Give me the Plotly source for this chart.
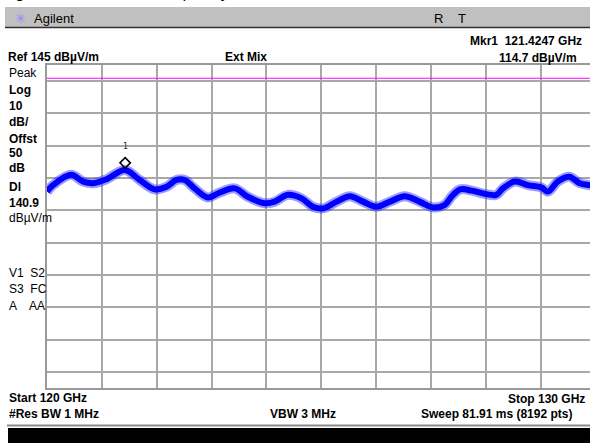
import plotly.graph_objects as go

# ---- data ----
freq_ghz = [120.00, 120.11, 120.44, 120.66, 120.84, 121.08, 121.42, 121.69, 121.96, 122.18,
            122.36, 122.51, 122.69, 122.93, 123.12, 123.42, 123.66, 123.97, 124.15, 124.39,
            124.64, 124.85, 125.03, 125.28, 125.52, 125.76, 126.00, 126.25, 126.52, 126.79,
            127.04, 127.25, 127.37, 127.53, 127.74, 127.98, 128.19, 128.31, 128.53, 128.77,
            129.01, 129.13, 129.31, 129.52, 129.71, 129.89, 130.00]
level_dbuv = [105.8, 107.8, 111.0, 108.9, 108.4, 109.6, 112.5, 109.4, 106.5, 107.3,
              109.4, 109.4, 106.8, 104.0, 105.3, 106.8, 104.2, 102.2, 102.7, 104.8,
              103.7, 101.1, 100.6, 102.7, 104.4, 102.7, 101.1, 102.7, 104.4, 102.7,
              100.9, 101.7, 104.2, 106.5, 106.1, 105.1, 104.8, 106.8, 108.9, 107.8,
              107.1, 105.8, 108.9, 110.4, 108.4, 107.8, 107.5]
marker_freq = 121.4247
marker_level = 114.7
display_line = 140.9
ref_level = 145
db_per_div = 10
start_ghz = 120
stop_ghz = 130

W, H = 590, 443
L, T, B = 47, 65, 388
PX_PER_GHZ = 54.86

def px(x):
    return (x - L) / (W - L)

def py(y):
    return (B - y) / (B - T)

FONT = "Liberation Sans, Arial, sans-serif"

fig = go.Figure()
# noisy halo of the trace
fig.add_trace(go.Scatter(x=freq_ghz, y=level_dbuv, mode="lines",
                         line=dict(color="rgba(40,40,255,0.45)", width=10, shape="spline"),
                         hoverinfo="skip", showlegend=False))
fig.add_trace(go.Scatter(x=freq_ghz, y=level_dbuv, mode="lines",
                         line=dict(color="#0000FF", width=6, shape="spline"),
                         showlegend=False))
fig.add_trace(go.Scatter(x=[marker_freq], y=[marker_level], mode="markers",
                         marker=dict(symbol="diamond-open", size=8, color="black",
                                     line=dict(width=1.5, color="black")),
                         showlegend=False))

x_end = start_ghz + (W - L) / PX_PER_GHZ
fig.update_xaxes(range=[start_ghz, x_end], dtick=1, tick0=start_ghz, showticklabels=False,
                 showgrid=True, gridcolor="#A8A8A8", gridwidth=1.5, zeroline=False,
                 showline=True, mirror=True, linecolor="#999999", linewidth=2, ticks="")
fig.update_yaxes(range=[ref_level - 10 * db_per_div, ref_level], dtick=db_per_div,
                 showticklabels=False, showgrid=True, gridcolor="#A8A8A8", gridwidth=1.5,
                 zeroline=False, showline=True, mirror=False, linecolor="#999999",
                 linewidth=2, ticks="")

shapes = [
    dict(type="line", xref="paper", yref="y", x0=0, x1=1, y0=display_line, y1=display_line,
         line=dict(color="#FF00FF", width=1)),
    # header bar
    dict(type="rect", xref="paper", yref="paper", x0=px(5), x1=px(W + 5), y0=py(7), y1=py(27),
         fillcolor="#C0C0C0", line=dict(width=0), layer="below"),
    dict(type="line", xref="paper", yref="paper", x0=px(5), x1=px(W + 5), y0=py(27.5), y1=py(27.5),
         line=dict(color="#303030", width=1.5)),
    # bottom bar
    dict(type="line", xref="paper", yref="paper", x0=px(7), x1=px(W + 5), y0=py(425.5), y1=py(425.5),
         line=dict(color="#8A8A8A", width=2)),
    dict(type="rect", xref="paper", yref="paper", x0=px(8), x1=px(W + 5), y0=py(428), y1=py(H + 5),
         fillcolor="#000000", line=dict(width=0)),
]

ann = []

def text(t, x, y, anchor="left", size=12, color="black", bold=True):
    ann.append(dict(text=("<b>%s</b>" % t) if bold else t, x=px(x), y=py(y), xref="paper",
                    yref="paper", xanchor=anchor, yanchor="middle", showarrow=False,
                    font=dict(family=FONT, size=size, color=color)))

# cut-off caption at the very top
ann.append(dict(text="Figure 12:  Measured frequency", x=px(0), y=py(3), xref="paper", yref="paper",
                xanchor="left", yanchor="bottom", showarrow=False,
                font=dict(family=FONT, size=16, color="black")))

text("✳", 13, 18, size=13, color="#8C8CFF", bold=False)
text("Agilent", 32, 18, size=13, bold=False)
text("R", 432, 18, size=13, bold=False)
text("T", 456, 18, size=13, bold=False)

text("Mkr1  121.4247 GHz", 584, 41, anchor="right")
text("Ref 145 dBµV/m", 6, 57)
text("Ext Mix", 223, 57)
text("114.7 dBµV/m", 579, 58, anchor="right")

text("Peak", 7, 73, bold=False)
text("Log", 7, 90)
text("10", 7, 106)
text("dB/", 7, 122)
text("Offst", 7, 139)
text("50", 7, 153)
text("dB", 7, 168)
text("Dl", 7, 187)
text("140.9", 7, 203)
text("dBµV/m", 7, 218, bold=False)

text("V1  S2", 7, 273, bold=False)
text("S3  FC", 7, 289, bold=False)
text("A    AA", 7, 306, bold=False)

text("Start 120 GHz", 7, 398)
text("#Res BW 1 MHz", 7, 414)
text("VBW 3 MHz", 268, 414)
text("Stop 130 GHz", 587, 399, anchor="right")
text("Sweep 81.91 ms (8192 pts)", 574, 414, anchor="right")

# marker number
ann.append(dict(text="1", x=marker_freq, y=marker_level, xref="x", yref="y", yshift=16,
                showarrow=False, font=dict(family="DejaVu Sans Mono", size=8, color="#222")))

fig.update_layout(width=W, height=H, margin=dict(l=L, r=0, t=T, b=H - B, pad=0),
                  paper_bgcolor="white", plot_bgcolor="white", shapes=shapes,
                  annotations=ann, showlegend=False)

fig.write_html("out.html", config={"displayModeBar": False},
               post_script="document.body.style.margin='0px';document.body.style.overflow='hidden';")
